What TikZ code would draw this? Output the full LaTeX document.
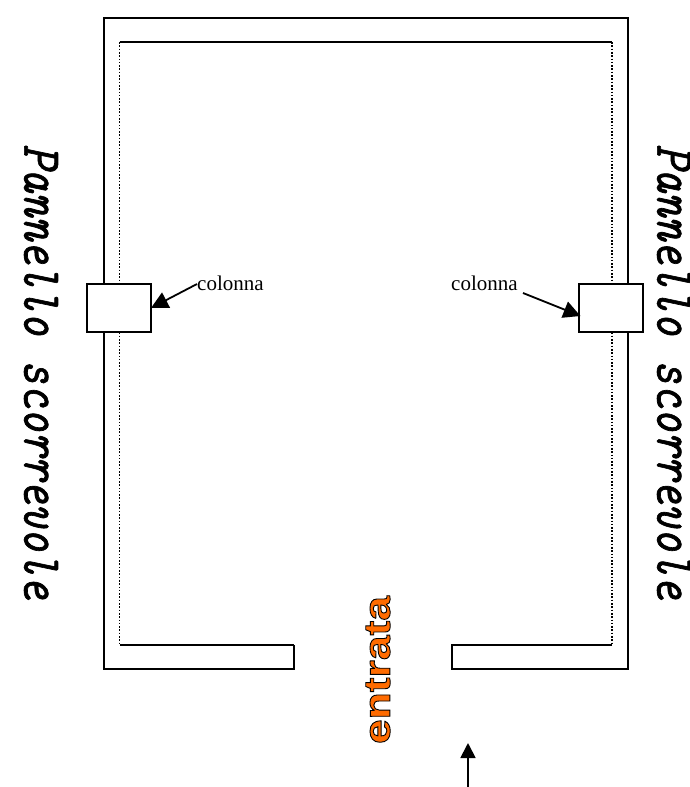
\documentclass[tikz,border=0pt]{standalone}
\usepackage{fontspec}
\setmainfont{Liberation Serif}
\newfontfamily\entfont[FakeBold=2.4,FakeStretch=1.2]{Liberation Sans Bold}
\newfontfamily\panfont[FakeStretch=0.83,FakeBold=1.2]{Latin Modern Mono}
\usetikzlibrary{arrows.meta}
\tikzset{
  x=1pt,y=-1pt,
  wall/.style={line width=2pt,black,line join=miter},
  dotwall/.style={line width=1.7pt,black,dash pattern=on 1.6pt off 1.7pt},
  colbox/.style={draw=black,fill=white,line width=2pt,minimum width=64pt,minimum height=48pt,inner sep=0pt,outer sep=0pt},
  collabel/.style={font=\fontsize{21}{23}\selectfont,inner sep=0pt,text=black},
  pointer/.style={line width=1.8pt,black,-{Triangle[length=17pt,width=17pt]}},
  uparrow/.style={line width=1.8pt,black,-{Triangle[length=15pt,width=15pt]}},
  panel/.style={font=\fontsize{55}{57}\panfont\itshape\selectfont,rotate=-90,inner sep=0pt,text=black},
}
\begin{document}
\begin{tikzpicture}
\useasboundingbox (0,0) rectangle (690,787);
% walls
\draw[wall] (294,645) -- (119.5,645) (119.5,42) -- (612,42);
\draw[wall] (612,645) -- (452,645) -- (452,669) -- (628,669) -- (628,18) -- (104,18) -- (104,669) -- (294,669) -- (294,645);
\draw[dotwall] (119.5,42) -- (119.5,645);
\draw[dotwall] (612,42) -- (612,645);
% columns
\node[colbox] (boxL) at (119,308) {};
\node[colbox] (boxR) at (611,308) {};
\node[collabel,anchor=west] (labL) at (197,283) {colonna};
\node[collabel,anchor=west] (labR) at (451,283) {colonna};
\coordinate (fromL) at (197,284);
\coordinate (fromR) at (523,293);
\coordinate (toR) at (580.5,316);
\coordinate (entryS) at (468,787);
\coordinate (entryN) at (468,743);
\draw[pointer] (fromL) -- (boxL.east);
\draw[pointer] (fromR) -- (toR);
\draw[uparrow] (entryS) -- (entryN);
% texts
\node[panel] (panelL) at (41,372) {Pannello scorrevole};
\node[panel] (panelR) at (674,372) {Pannello scorrevole};
\node[rotate=90,inner sep=0pt] (ent) at (378,670) {\fontsize{37}{39}\entfont\selectfont\special{pdf:bcolor [1 0.42 0] [0 0 0]}entrata\special{pdf:ecolor}};
\end{tikzpicture}
\end{document}
